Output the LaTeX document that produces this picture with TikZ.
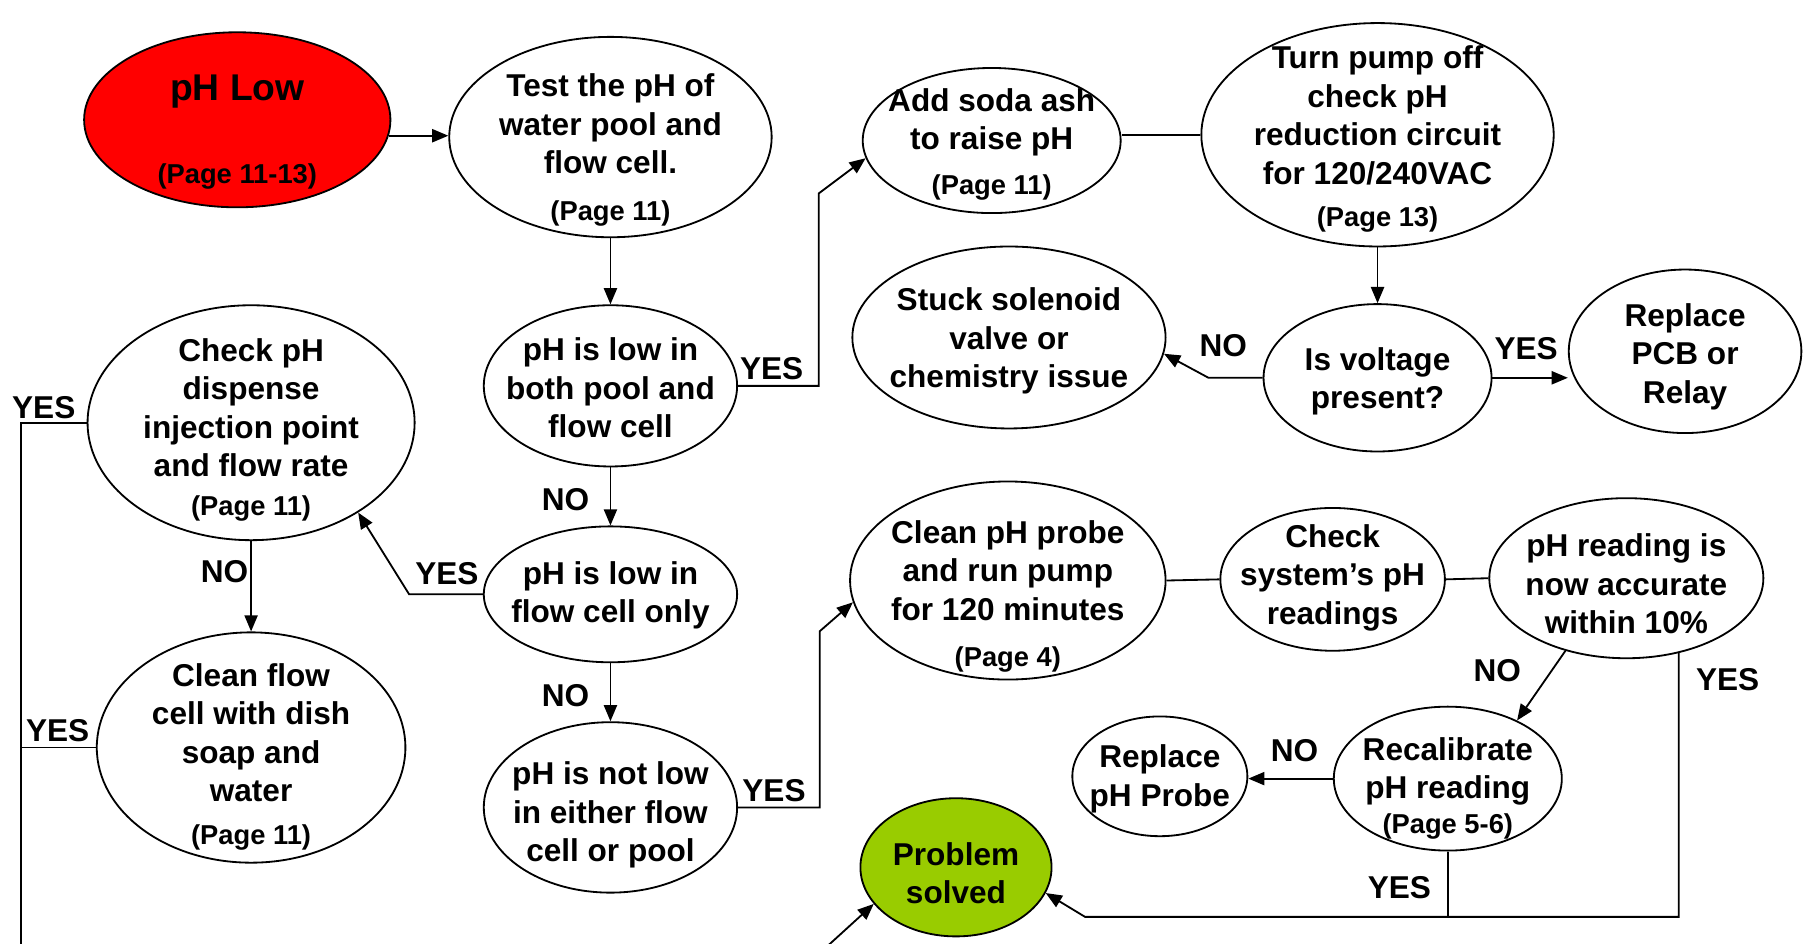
\documentclass[tikz,border=0pt]{standalone}
\usepackage{fontspec}
\setmainfont{Liberation Sans}
\usetikzlibrary{shapes.geometric,arrows.meta}
\definecolor{lowred}{HTML}{FF0000}
\definecolor{okgreen}{HTML}{99CC00}
\newcommand{\pgtag}[1]{{\fontsize{13.5}{16}\selectfont #1}}
\tikzset{
	oval/.style={ellipse, draw, line width=0.9pt, inner sep=0pt},
	ovtext/.style={align=center, inner sep=0pt, font=\fontsize{15.6}{19}\selectfont\bfseries},
	lbl/.style={inner sep=0pt, font=\fontsize{15.6}{19}\selectfont\bfseries},
	arr/.style={line width=0.9pt, -{Triangle[length=8pt,width=6.5pt]}},
	link/.style={line width=0.9pt},
}
\begin{document}
\begin{tikzpicture}[x=0.02cm, y=-0.02cm]
		\useasboundingbox (0,0) rectangle (1568,819);
		\clip (0,0) rectangle (1568,819);
		
		\node[oval, fill=lowred, minimum width=5.32cm, minimum height=3.04cm, label={[ovtext,yshift=-0.22cm]center:{{\fontsize{18.4}{22}\selectfont pH Low}\\[22pt]\pgtag{(Page 11-13)}}}] (phlow) at (206,104) {};
		\node[oval, minimum width=5.6cm, minimum height=3.48cm, label={[ovtext,yshift=-0.22cm]center:{Test the pH of\\water pool and\\flow cell.\\[4pt]\pgtag{(Page 11)}}}] (test) at (530,119) {};
		\node[oval, minimum width=4.4cm, minimum height=2.8cm, label={[ovtext,yshift=-0.04cm]center:{pH is low in\\both pool and\\flow cell}}] (both) at (530,335) {};
		\node[oval, minimum width=4.4cm, minimum height=2.36cm, label={[ovtext,yshift=-0.02cm]center:{pH is low in\\flow cell only}}] (flowonly) at (530,516) {};
		\node[oval, minimum width=4.4cm, minimum height=2.96cm, label={[ovtext,yshift=-0.13cm]center:{pH is not low\\in either flow\\cell or pool}}] (notlow) at (530,701) {};
		\node[oval, minimum width=5.68cm, minimum height=4.08cm, label={[ovtext,yshift=-0.12cm]center:{Check pH\\dispense\\injection point\\and flow rate\\\pgtag{(Page 11)}}}] (checkpH) at (218,367) {};
		\node[oval, minimum width=5.36cm, minimum height=4.0cm, label={[ovtext,yshift=-0.16cm]center:{Clean flow\\cell with dish\\soap and\\water\\[2pt]\pgtag{(Page 11)}}}] (cleanflow) at (218,649) {};
		
		\node[oval, minimum width=4.48cm, minimum height=2.52cm, label={[ovtext,yshift=-0.06cm]center:{Add soda ash\\to raise pH\\[3pt]\pgtag{(Page 11)}}}] (soda) at (861,122) {};
		\node[oval, minimum width=6.12cm, minimum height=3.88cm, label={[ovtext,yshift=-0.08cm]center:{Turn pump off\\check pH\\reduction circuit\\for 120/240VAC\\[2pt]\pgtag{(Page 13)}}}] (turnoff) at (1196,117) {};
		\node[oval, minimum width=3.96cm, minimum height=2.56cm, label={[ovtext,yshift=-0.06cm]center:{Is voltage\\present?}}] (voltage) at (1196,328) {};
		\node[oval, minimum width=5.44cm, minimum height=3.16cm, label={[ovtext,yshift=-0.06cm]center:{Stuck solenoid\\valve or\\chemistry issue}}] (stuck) at (876,293) {};
		\node[oval, minimum width=4.04cm, minimum height=2.84cm, label={[ovtext,yshift=-0.09cm]center:{Replace\\PCB or\\Relay}}] (pcb) at (1463,305) {};
		
		\node[oval, minimum width=5.48cm, minimum height=3.44cm, label={[ovtext,yshift=-0.28cm]center:{Clean pH probe\\and run pump\\for 120 minutes\\[4pt]\pgtag{(Page 4)}}}] (cleanprobe) at (875,504) {};
		\node[oval, minimum width=3.9cm, minimum height=2.48cm, label={[ovtext,yshift=0.03cm]center:{Check\\system’s pH\\readings}}] (checksys) at (1157,503) {};
		\node[oval, minimum width=4.76cm, minimum height=2.78cm, label={[ovtext,yshift=-0.1cm]center:{pH reading is\\now accurate\\within 10\%}}] (accurate) at (1412,502) {};
		\node[oval, minimum width=3.96cm, minimum height=2.5cm, label={[ovtext,yshift=-0.17cm]center:{Recalibrate\\pH reading\\[-2pt]\pgtag{(Page 5-6)}}}] (recal) at (1257,676) {};
		\node[oval, minimum width=3.04cm, minimum height=2.08cm, label={[ovtext,yshift=-0.04cm]center:{Replace\\pH Probe}}] (replprobe) at (1007,674) {};
		\node[oval, fill=okgreen, minimum width=3.32cm, minimum height=2.4cm, label={[ovtext,yshift=-0.1cm]center:{Problem\\solved}}] (problem) at (830,753) {};
		
		\draw[arr] (phlow.-6) -- (phlow.-6 -| test.west);
		\draw[arr] (test.south) -- (both.north);
		\draw[arr] (both.south) -- (flowonly.north);
		\draw[arr] (flowonly.south) -- (notlow.north);
		\draw[arr] (both.east) -- ++(70,0) -- ++(0,-167) -- (soda.188);
		\draw[arr] (flowonly.west) -- ++(-64,0) -- (checkpH.-40);
		\draw[arr] (notlow.east) -- ++(71,0) -- ++(0,-153) -- (cleanprobe.188);
		\draw[arr] (checkpH.south) -- (cleanflow.north);
		\coordinate (leftend) at (18,850);
		\draw[link] (checkpH.west) -| (leftend);
		\draw[link] (cleanflow.west) -- (cleanflow.west -| leftend);
		
		\draw[link] (turnoff.west -| soda.east) -- (turnoff.west);
		\draw[arr] (turnoff.south) -- (voltage.north);
		\draw[arr] (voltage.west) -- ++(-47,0) -- (stuck.-6);
		\draw[arr] (voltage.east) -- (voltage.east -| pcb.west);
		
		\draw[link] (cleanprobe.east) -- (checksys.west);
		\draw[link] (checksys.east) -- (accurate.west);
		\draw[arr] (accurate.230) -- (recal.40);
		\draw[arr] (recal.west) -- (recal.west -| replprobe.east);
		\coordinate (bend) at (942,796);
		\draw[arr] (accurate.-55) |- (bend) -- (problem.-16);
		\draw[link] (recal.south) -- (recal.south |- bend);
		\coordinate (lowin) at (687,850);
		\draw[arr] (lowin) -- (problem.204);
		
		\foreach \n/\x/\y/\t in {yesboth/670/320/YES, noboth/491/434/NO, yesflow/388/498/YES, noflow/491/604/NO, yesnot/672/686/YES, nocheck/195/496/NO, yescheck/38/354/YES, yesclean/50/634/YES, novolt/1062/300/NO, yesvolt/1325/303/YES, noacc/1300/582/NO, yesacc/1500/590/YES, norecal/1124/652/NO, yesrecal/1215/771/YES}{
			\node[lbl] (\n) at (\x,\y) {\t};
		}
\end{tikzpicture}
\end{document}
